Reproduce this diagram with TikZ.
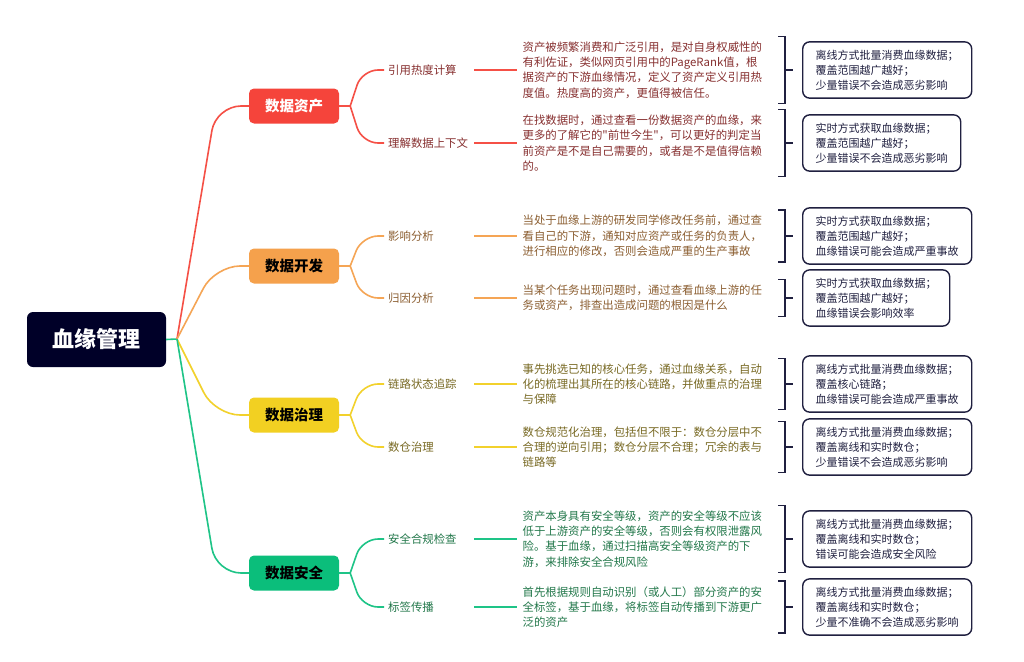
\documentclass[tikz,border=0pt]{standalone}
\usepackage{fontspec}
\setmainfont{Noto Sans CJK SC}
\newfontfamily\plainq{Noto Sans CJK SC}
\usepackage{tikz}
\usetikzlibrary{positioning,calc}

\definecolor{navy}{RGB}{0,0,40}
\definecolor{boxline}{RGB}{32,32,64}
\definecolor{redline}{RGB}{245,80,70}
\definecolor{redfill}{RGB}{245,68,59}
\definecolor{redtxt}{RGB}{135,48,48}
\definecolor{orangeline}{RGB}{245,165,85}
\definecolor{orangefill}{RGB}{245,161,76}
\definecolor{orangetxt}{RGB}{140,95,50}
\definecolor{yellowline}{RGB}{242,209,44}
\definecolor{yellowfill}{RGB}{242,208,34}
\definecolor{yellowtxt}{RGB}{120,105,35}
\definecolor{greenline}{RGB}{30,196,135}
\definecolor{greenfill}{RGB}{11,190,123}
\definecolor{greentxt}{RGB}{35,120,75}

\begin{document}
\begin{tikzpicture}[x=1pt, y=-1pt,
  topic/.style={rounded corners=5pt, minimum width=90pt, minimum height=35pt, inner sep=0pt,
    font=\fontsize{14.5}{16}\selectfont\bfseries},
  leaf/.style={anchor=west, text width=82pt, inner sep=4pt, align=left,
    font=\fontsize{11.4}{14}\selectfont},
  desc/.style={inner sep=5pt, align=left, font=\fontsize{11.4}{15.3}\selectfont},
  infobox/.style={draw=boxline, line width=1.4pt, rounded corners=7pt, anchor=west,
    inner xsep=13pt, inner ysep=8pt, align=left, text=boxline, font=\fontsize{11}{15}\selectfont},
  bracket/.style={draw=boxline, line width=1.4pt},
  wire/.style={line width=1.6pt}]

\fill[white] (0,0) rectangle (1024,661);
\useasboundingbox (0,0) rectangle (1024,661);

\coordinate (j) at (177,339);
\coordinate (bx) at (785,0);
\coordinate (bb) at (802,0);

\node[fill=navy, text=white, rounded corners=6pt, minimum width=139pt, minimum height=55pt,
  font=\fontsize{22}{24}\selectfont\bfseries] (root) at (96.5,339.5) {血缘管理};

\node[topic, fill=redfill, text=white] (asset) at (294,106) {数据资产};
\node[topic, fill=orangefill] (dev) at (294,266) {数据开发};
\node[topic, fill=yellowfill] (gov) at (294,415) {数据治理};
\node[topic, fill=greenfill] (sec) at (294,573) {数据安全};

\node[leaf, text=redtxt] (heat) at (384,70) {引用热度计算};
\node[leaf, text=redtxt] (ctx) at (384,143) {理解数据上下文};
\node[leaf, text=orangetxt] (impact) at (384,236) {影响分析};
\node[leaf, text=orangetxt] (cause) at (384,298) {归因分析};
\node[leaf, text=yellowtxt] (chain) at (384,384) {链路状态追踪};
\node[leaf, text=yellowtxt] (dw) at (384,447) {数仓治理};
\node[leaf, text=greentxt] (comply) at (384,539) {安全合规检查};
\node[leaf, text=greentxt] (tag) at (384,607) {标签传播};

\node[desc, text=redtxt, right=43pt of heat] (d-heat) {资产被频繁消费和广泛引用，是对自身权威性的\\有利佐证，类似网页引用中的PageRank值，根\\据资产的下游血缘情况，定义了资产定义引用热\\度值。热度高的资产，更值得被信任。};
\node[desc, text=redtxt, right=43pt of ctx] (d-ctx) {在找数据时，通过查看一份数据资产的血缘，来\\更多的了解它的{\plainq"}前世今生{\plainq"}，可以更好的判定当\\前资产是不是自己需要的，或者是不是值得信赖\\的。};
\node[desc, text=orangetxt, right=43pt of impact] (d-impact) {当处于血缘上游的研发同学修改任务前，通过查\\看自己的下游，通知对应资产或任务的负责人，\\进行相应的修改，否则会造成严重的生产事故};
\node[desc, text=orangetxt, right=43pt of cause] (d-cause) {当某个任务出现问题时，通过查看血缘上游的任\\务或资产，排查出造成问题的根因是什么};
\node[desc, text=yellowtxt, right=43pt of chain] (d-chain) {事先挑选已知的核心任务，通过血缘关系，自动\\化的梳理出其所在的核心链路，并做重点的治理\\与保障};
\node[desc, text=yellowtxt, right=43pt of dw] (d-dw) {数仓规范化治理，包括但不限于：数仓分层中不\\合理的逆向引用；数仓分层不合理；冗余的表与\\链路等};
\node[desc, text=greentxt, right=43pt of comply] (d-comply) {资产本身具有安全等级，资产的安全等级不应该\\低于上游资产的安全等级，否则会有权限泄露风\\险。基于血缘，通过扫描高安全等级资产的下\\游，来排除安全合规风险};
\node[desc, text=greentxt, right=43pt of tag] (d-tag) {首先根据规则自动识别（或人工）部分资产的安\\全标签，基于血缘，将标签自动传播到下游更广\\泛的资产};

\node[infobox] (b-heat) at (d-heat.east -| bb) {离线方式批量消费血缘数据；\\覆盖范围越广越好；\\少量错误不会造成恶劣影响};
\node[infobox] (b-ctx) at (d-ctx.east -| bb) {实时方式获取血缘数据；\\覆盖范围越广越好；\\少量错误不会造成恶劣影响};
\node[infobox] (b-impact) at (d-impact.east -| bb) {实时方式获取血缘数据；\\覆盖范围越广越好；\\血缘错误可能会造成严重事故};
\node[infobox] (b-cause) at (d-cause.east -| bb) {实时方式获取血缘数据；\\覆盖范围越广越好；\\血缘错误会影响效率};
\node[infobox] (b-chain) at (d-chain.east -| bb) {离线方式批量消费血缘数据；\\覆盖核心链路；\\血缘错误可能会造成严重事故};
\node[infobox] (b-dw) at (d-dw.east -| bb) {离线方式批量消费血缘数据；\\覆盖离线和实时数仓；\\少量错误不会造成恶劣影响};
\node[infobox] (b-comply) at (d-comply.east -| bb) {离线方式批量消费血缘数据；\\覆盖离线和实时数仓；\\错误可能会造成安全风险};
\node[infobox] (b-tag) at (d-tag.east -| bb) {离线方式批量消费血缘数据；\\覆盖离线和实时数仓；\\少量不准确不会造成恶劣影响};

\draw[wire, greenline] (root.east) -- (j);
\draw[wire, redline, rounded corners=25pt] (j) -- (216,106) -- (asset.west);
\draw[wire, orangeline, rounded corners=25pt] (j) -- (215,266) -- (dev.west);
\draw[wire, yellowline, rounded corners=25pt] (j) -- (215,415) -- (gov.west);
\draw[wire, greenline, rounded corners=25pt] (j) -- (216,573) -- (sec.west);

\coordinate (f-asset) at ($(asset.east)+(11,0)$);
\coordinate (f-dev) at ($(dev.east)+(11,0)$);
\coordinate (f-gov) at ($(gov.east)+(11,0)$);
\coordinate (f-sec) at ($(sec.east)+(11,0)$);

\draw[wire, redline] (asset.east) -- (f-asset);
\draw[wire, redline, rounded corners=16pt] (f-asset) -- (362,70) -- (heat.west);
\draw[wire, redline, rounded corners=16pt] (f-asset) -- (362,143) -- (ctx.west);
\draw[wire, orangeline] (dev.east) -- (f-dev);
\draw[wire, orangeline, rounded corners=16pt] (f-dev) -- (362,236) -- (impact.west);
\draw[wire, orangeline, rounded corners=16pt] (f-dev) -- (362,298) -- (cause.west);
\draw[wire, yellowline] (gov.east) -- (f-gov);
\draw[wire, yellowline, rounded corners=16pt] (f-gov) -- (362,384) -- (chain.west);
\draw[wire, yellowline, rounded corners=16pt] (f-gov) -- (362,447) -- (dw.west);
\draw[wire, greenline] (sec.east) -- (f-sec);
\draw[wire, greenline, rounded corners=16pt] (f-sec) -- (362,539) -- (comply.west);
\draw[wire, greenline, rounded corners=16pt] (f-sec) -- (362,607) -- (tag.west);

\draw[wire, redline] (heat.east) -- (d-heat.west);
\draw[wire, redline] (ctx.east) -- (d-ctx.west);
\draw[wire, orangeline] (impact.east) -- (d-impact.west);
\draw[wire, orangeline] (cause.east) -- (d-cause.west);
\draw[wire, yellowline] (chain.east) -- (d-chain.west);
\draw[wire, yellowline] (dw.east) -- (d-dw.west);
\draw[wire, greenline] (comply.east) -- (d-comply.west);
\draw[wire, greenline] (tag.east) -- (d-tag.west);

\foreach \d in {heat,ctx,impact,cause,chain,dw,comply,tag} {
  \draw[bracket] (d-\d.north -| bx) ++(-7,0) -- ++(7,0) -- (d-\d.south -| bx) -- ++(-7,0);
  \draw[bracket] (d-\d.east -| bx) -- ++(8,0);
}
\end{tikzpicture}
\end{document}
